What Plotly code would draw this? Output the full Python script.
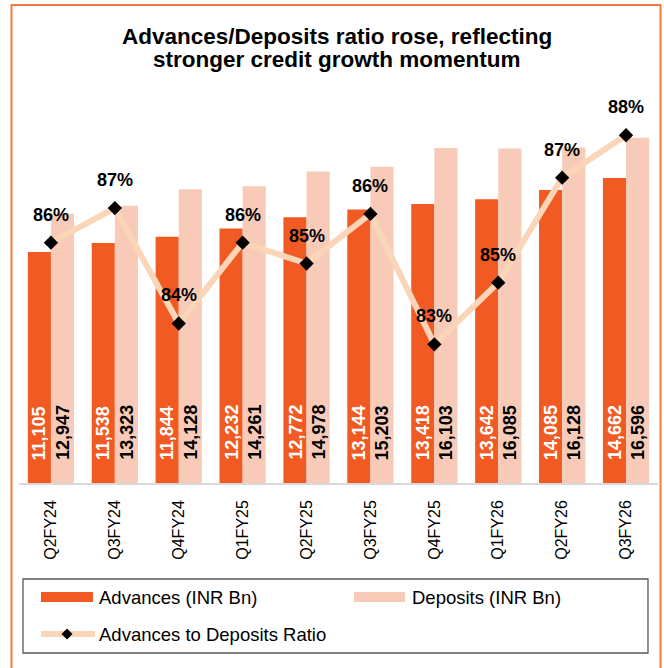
import plotly.graph_objects as go

# ---- data ----
categories = ["Q2FY24", "Q3FY24", "Q4FY24", "Q1FY25", "Q2FY25",
              "Q3FY25", "Q4FY25", "Q1FY26", "Q2FY26", "Q3FY26"]
advances = [11105, 11538, 11844, 12232, 12772, 13144, 13418, 13642, 14085, 14662]
deposits = [12947, 13323, 14128, 14261, 14978, 15203, 16103, 16085, 16128, 16596]
ratio = [0.8577, 0.8660, 0.8383, 0.8577, 0.8527, 0.8646, 0.8333, 0.8481, 0.8733, 0.8835]

title_lines = ["Advances/Deposits ratio rose, reflecting",
               "stronger credit growth momentum"]
name_adv = "Advances (INR Bn)"
name_dep = "Deposits (INR Bn)"
name_ratio = "Advances to Deposits Ratio"

# ---- style ----
C_ADV = "#F15A22"
C_DEP = "#F8CBB8"
C_LINE = "#FBD5B7"
C_FRAME = "#F47B40"
FONT = "Liberation Sans, Arial, sans-serif"

W, H = 664, 668
L, R, T, B = 19, 6, 109, 185
PW, PH = W - L - R, H - T - B


def fx(px):
    return (px - L) / PW


def fy(py):
    return (H - B - py) / PH


fig = go.Figure()
fig.add_trace(go.Bar(x=categories, y=advances, name=name_adv,
                     marker=dict(color=C_ADV, line=dict(width=0)),
                     showlegend=False, hoverinfo="skip"))
fig.add_trace(go.Bar(x=categories, y=deposits, name=name_dep,
                     marker=dict(color=C_DEP, line=dict(width=0)),
                     showlegend=False, hoverinfo="skip"))
fig.add_trace(go.Scatter(x=categories, y=ratio, name=name_ratio, yaxis="y2",
                         mode="lines+markers",
                         line=dict(color=C_LINE, width=6),
                         marker=dict(symbol="diamond", size=11, color="black"),
                         showlegend=False, hoverinfo="skip"))

ann = []
for c, a, d, r in zip(categories, advances, deposits, ratio):
    ann.append(dict(x=c, y=0, xref="x", yref="y", text=f"<b>{a:,}</b>",
                    textangle=-90, xshift=-11.5, yshift=21, yanchor="bottom",
                    showarrow=False, font=dict(family=FONT, size=18, color="white")))
    ann.append(dict(x=c, y=0, xref="x", yref="y", text=f"<b>{d:,}</b>",
                    textangle=-90, xshift=11.5, yshift=21, yanchor="bottom",
                    showarrow=False, font=dict(family=FONT, size=18, color="black")))
    ann.append(dict(x=c, y=r, xref="x", yref="y2", text=f"<b>{round(r * 100)}%</b>",
                    yshift=28, yanchor="middle", showarrow=False,
                    font=dict(family=FONT, size=18, color="black")))

# title, two centered lines
for line_text, ypx in zip(title_lines, [37, 60]):
    ann.append(dict(x=fx(337), y=fy(ypx), xref="paper", yref="paper", text=line_text,
                    xanchor="center", yanchor="middle", showarrow=False,
                    font=dict(family=FONT, size=22.5, color="black", weight="bold")))

# legend texts
leg_font = dict(family=FONT, size=18.5, color="black")
ann.append(dict(x=fx(97), y=fy(597), xref="paper", yref="paper", text=name_adv,
                xanchor="left", yanchor="middle", showarrow=False, font=leg_font))
ann.append(dict(x=fx(410), y=fy(597), xref="paper", yref="paper", text=name_dep,
                xanchor="left", yanchor="middle", showarrow=False, font=leg_font))
ann.append(dict(x=fx(97), y=fy(634), xref="paper", yref="paper", text=name_ratio,
                xanchor="left", yanchor="middle", showarrow=False, font=leg_font))

shapes = [
    # outer frame
    dict(type="rect", xref="paper", yref="paper", x0=fx(11.5), x1=fx(660.5),
         y0=fy(669), y1=fy(5), line=dict(color=C_FRAME, width=2), layer="below"),
    # legend box
    dict(type="rect", xref="paper", yref="paper", x0=fx(23), x1=fx(648),
         y0=fy(653), y1=fy(579), line=dict(color="#595959", width=1.3)),
    dict(type="rect", xref="paper", yref="paper", x0=fx(41), x1=fx(93),
         y0=fy(602), y1=fy(592), fillcolor=C_ADV, line=dict(width=0)),
    dict(type="rect", xref="paper", yref="paper", x0=fx(354), x1=fx(405),
         y0=fy(602), y1=fy(592), fillcolor=C_DEP, line=dict(width=0)),
    dict(type="line", xref="paper", yref="paper", x0=fx(41), x1=fx(95),
         y0=fy(634), y1=fy(634), line=dict(color=C_LINE, width=6)),
]
cx, cy, hs = 67, 634, 5.5
shapes.append(dict(type="path", xref="paper", yref="paper",
                   path=(f"M {fx(cx - hs)},{fy(cy)} L {fx(cx)},{fy(cy - hs)} "
                         f"L {fx(cx + hs)},{fy(cy)} L {fx(cx)},{fy(cy + hs)} Z"),
                   fillcolor="black", line=dict(width=0)))

fig.update_layout(
    width=W, height=H, autosize=False,
    margin=dict(l=L, r=R, t=T, b=B, pad=0),
    paper_bgcolor="white", plot_bgcolor="white",
    barmode="group", bargap=0.276, bargroupgap=0,
    xaxis=dict(range=[-0.5, len(categories) - 0.5], autorange=False,
               showline=True, linecolor="#D9D9D9", linewidth=1.5, showgrid=False,
               ticks="", tickangle=-90, ticklabelstandoff=9,
               tickfont=dict(family=FONT, size=16, color="black"), zeroline=False),
    yaxis=dict(range=[0, 17980], visible=False, showgrid=False, zeroline=False),
    yaxis2=dict(range=[0.800, 0.8898], overlaying="y", visible=False,
                showgrid=False, zeroline=False),
    showlegend=False,
    annotations=ann,
    shapes=shapes,
)

fig.write_html("out.html", config={"displayModeBar": False},
               post_script="document.body.style.margin='0px';")
